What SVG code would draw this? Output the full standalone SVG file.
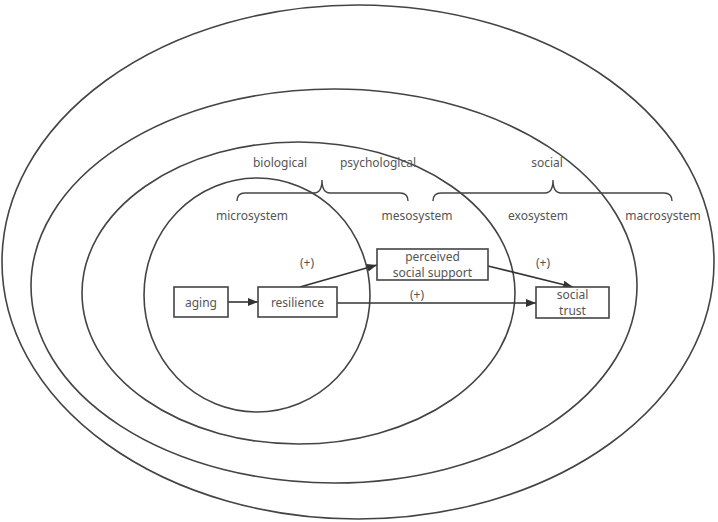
<svg xmlns="http://www.w3.org/2000/svg" width="718" height="522" viewBox="0 0 718 522">
<style>
.ring{fill:none;stroke:#444;stroke-width:1.6}
.box{fill:#fff;stroke:#444;stroke-width:1.6}
.t{font-family:"Noto Sans","Liberation Sans",sans-serif;font-size:12px;fill:#555;text-anchor:middle}
.brace{fill:none;stroke:#444;stroke-width:1.4}
.edge{fill:none;stroke:#333;stroke-width:1.6}
</style>
<defs>
<marker id="ah" viewBox="0 0 10 8" refX="10" refY="4" markerWidth="10" markerHeight="8" markerUnits="userSpaceOnUse" orient="auto">
<path d="M0,0 L10,4 L0,8 z" fill="#333"/>
</marker>
</defs>
<rect width="718" height="522" fill="#fff"/>
<g id="rings">
<ellipse id="macrosystem-ring" class="ring" cx="358" cy="262" rx="356" ry="257"/>
<ellipse id="exosystem-ring" class="ring" cx="334" cy="286" rx="303" ry="197"/>
<ellipse id="mesosystem-ring" class="ring" cx="298.5" cy="293" rx="216.5" ry="151"/>
<ellipse id="microsystem-ring" class="ring" cx="257" cy="295" rx="113" ry="117"/>
</g>
<g id="braces">
<path class="brace" d="M237,201 Q237,193 245,193 L314,193 Q322,193 322,180 Q322,193 330,193 L400,193 Q408,193 408,201"/>
<path class="brace" d="M433,201 Q433,193 441,193 L545,193 Q553,193 553,180 Q553,193 561,193 L664,193 Q672,193 672,201"/>
</g>
<g id="labels">
<text class="t" x="280" y="167">biological</text>
<text class="t" x="378" y="167">psychological</text>
<text class="t" x="547" y="167">social</text>
<text class="t" x="252" y="220">microsystem</text>
<text class="t" x="417" y="220">mesosystem</text>
<text class="t" x="538" y="220">exosystem</text>
<text class="t" x="663" y="220">macrosystem</text>
</g>
<g id="connectors">
<line class="edge" x1="228" y1="302" x2="258" y2="302" marker-end="url(#ah)"/>
<line class="edge" x1="300" y1="287" x2="377" y2="265" marker-end="url(#ah)"/>
<line class="edge" x1="337" y1="303" x2="536" y2="303" marker-end="url(#ah)"/>
<line class="edge" x1="488" y1="266" x2="573" y2="287" marker-end="url(#ah)"/>
<text class="t" x="307" y="267">(+)</text>
<text class="t" x="417" y="299">(+)</text>
<text class="t" x="543" y="267">(+)</text>
</g>
<g id="node-aging">
<rect class="box" x="174" y="287" width="54" height="30"/>
<text class="t" x="201" y="307">aging</text>
</g>
<g id="node-resilience">
<rect class="box" x="258" y="287" width="79" height="30"/>
<text class="t" x="297.5" y="307">resilience</text>
</g>
<g id="node-pss">
<rect class="box" x="377" y="249" width="111" height="31"/>
<text class="t" x="432.5" y="261">perceived</text>
<text class="t" x="432.5" y="277">social support</text>
</g>
<g id="node-trust">
<rect class="box" x="536" y="287" width="73" height="31"/>
<text class="t" x="572.5" y="299">social</text>
<text class="t" x="572.5" y="315">trust</text>
</g>
</svg>
